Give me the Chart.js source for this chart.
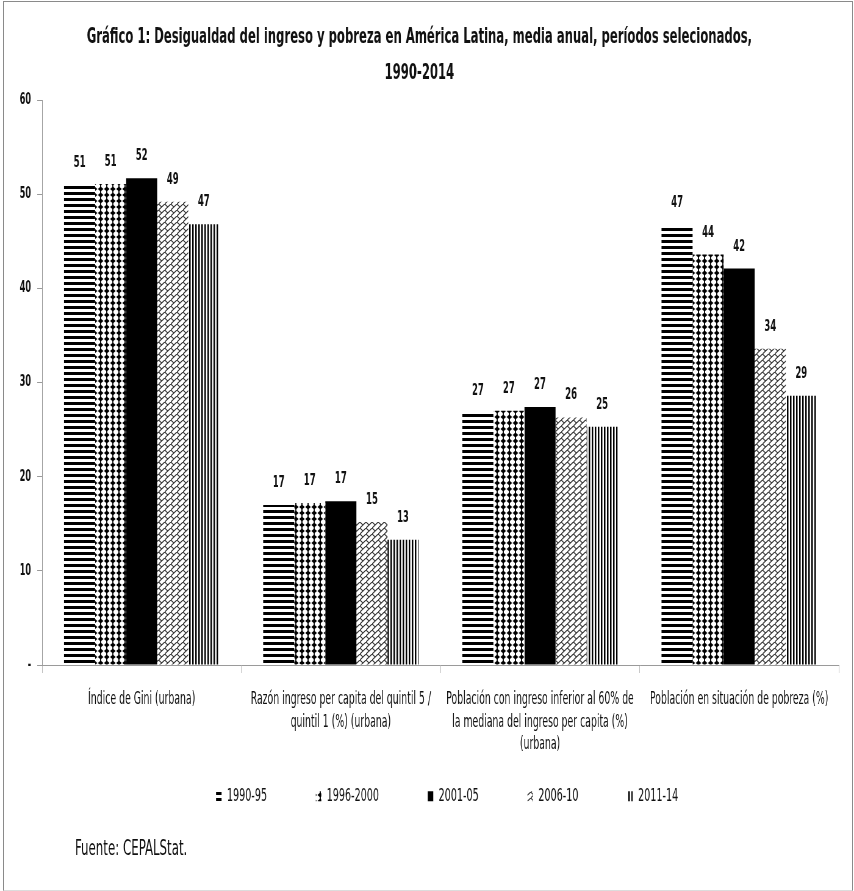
<!DOCTYPE html>
<html>
<head>
<meta charset="utf-8">
<script src="https://cdn.jsdelivr.net/npm/chart.js@4.4.1/dist/chart.umd.min.js"></script>
<style>
  body { margin: 0; background: #fff; }
  #wrap { position: relative; width: 854px; height: 891px; overflow: hidden; }
  /* the original text is a very narrow face: draw wider, then squeeze horizontally */
  #squeeze { position: absolute; left: 0; top: 0; width: 1400px; height: 891px;
             transform: scaleX(0.61); transform-origin: 0 0; }
  #frame { position: absolute; left: 3px; top: 1px; width: 848px; height: 888px;
           border: 1px solid #8a8a8a; border-bottom-color: #dcdcdc; pointer-events: none; }
  #source { position: absolute; left: 123px; top: 835px; line-height: 24px;
            font: 21.5px "DejaVu Sans Condensed", "DejaVu Sans", sans-serif; color: #111; }
</style>
</head>
<body>
<div id="wrap">
  <div id="squeeze">
    <canvas id="chart" width="1400" height="891"></canvas>
    <div id="source">Fuente: CEPALStat.</div>
  </div>
  <div id="frame"></div>
</div>
<script>
// Data
const categories = [
  'Índice de Gini (urbana)',
  ['Razón ingreso per capita del quintil 5 /', 'quintil 1 (%) (urbana)'],
  ['Población con ingreso inferior al 60% de', 'la mediana del ingreso per capita (%)', '(urbana)'],
  'Población en situación de pobreza (%)'
];
const periods = ['1990-95', '1996-2000', '2001-05', '2006-10', '2011-14'];
const s1990 = [51.0, 17.0, 26.8, 46.7];
const s1996 = [51.1, 17.2, 27.0, 43.6];
const s2001 = [51.7, 17.4, 27.4, 42.1];
const s2006 = [49.2, 15.2, 26.3, 33.6];
const s2011 = [46.8, 13.3, 25.3, 28.6];
const yTicks = [0, 10, 20, 30, 40, 50, 60];

const FONT = '"DejaVu Sans Condensed", "DejaVu Sans", sans-serif';

function makePattern(w, h, draw){
  const c = document.createElement('canvas');
  c.width = w; c.height = h;
  const g = c.getContext('2d');
  g.fillStyle = '#fff';
  g.fillRect(0, 0, w, h);
  draw(g);
  return g.createPattern(c, 'repeat');
}

// pattern tiles are in the un-squeezed space (x shrinks by 0.61 on screen)
const hStripes = makePattern(10, 6, g => { g.fillStyle = '#000'; g.fillRect(0, 0, 10, 3); });
const diamonds = makePattern(10, 6, g => {
  g.fillStyle = '#000';
  g.beginPath();
  g.moveTo(5, 0.4); g.lineTo(9.6, 3); g.lineTo(5, 5.6); g.lineTo(0.4, 3);
  g.closePath(); g.fill();
  g.fillRect(4.1, 0, 1.8, 6);
});
const bricks = makePattern(10, 6, g => {
  g.strokeStyle = '#333'; g.lineWidth = 1.2;
  g.beginPath();
  g.moveTo(0, 6); g.lineTo(10, 0);
  g.moveTo(0, 0); g.lineTo(5, 3);
  g.stroke();
});
const vStripes = makePattern(5, 4, g => { g.fillStyle = '#000'; g.fillRect(0, 0, 2.5, 4); });

const fills = [hStripes, diamonds, '#000', bricks, vStripes];
const series = [s1990, s1996, s2001, s2006, s2011];

// value labels above each bar
const valueLabels = {
  id: 'valueLabels',
  afterDatasetsDraw(chart){
    const ctx = chart.ctx;
    ctx.save();
    ctx.font = 'bold 15.5px ' + FONT;
    ctx.fillStyle = '#111';
    ctx.textAlign = 'center';
    ctx.textBaseline = 'middle';
    chart.data.datasets.forEach((ds, i) => {
      chart.getDatasetMeta(i).data.forEach((bar, j) => {
        ctx.fillText(String(Math.round(ds.data[j])), bar.x, bar.y - 22);
      });
    });
    ctx.restore();
  }
};

// nudge the legend a little right, like the original
const legendShift = {
  id: 'legendShift',
  afterLayout(chart){
    chart.legend.left += 11;
    chart.legend.right += 11;
  }
};

const LEG_PAD = 80;

new Chart(document.getElementById('chart'), {
  type: 'bar',
  data: {
    labels: categories,
    datasets: periods.map((p, i) => ({
      label: p,
      data: series[i],
      backgroundColor: fills[i],
      borderWidth: 0,
      categoryPercentage: 0.78,
      barPercentage: 1.0
    }))
  },
  options: {
    responsive: false,
    animation: false,
    layout: { padding: { left: 0, right: 25, bottom: 76 } },
    plugins: {
      title: {
        display: true,
        text: ['Gráfico 1: Desigualdad del ingreso y pobreza en América Latina, media anual, períodos selecionados,', '1990-2014'],
        color: '#111',
        font: { family: FONT, size: 21.2, weight: 'bold', lineHeight: 1.7 },
        padding: { top: 19, bottom: 9 }
      },
      legend: {
        position: 'bottom',
        fullSize: false,
        labels: {
          color: '#111',
          boxWidth: 9,
          boxHeight: 10,
          padding: LEG_PAD,
          font: { family: FONT, size: 17.5 }
        }
      },
      tooltip: { enabled: false }
    },
    scales: {
      x: {
        afterFit(axis){
          // labels run into the legend's top padding, as in the original
          axis.height = 122.5 - LEG_PAD;
          axis._computeLabelArea = () => undefined;
        },
        grid: { display: true, drawOnChartArea: false, offset: true, tickLength: 8, color: '#bdbdbd' },
        border: { color: '#9a9a9a' },
        ticks: { color: '#111', autoSkip: false, maxRotation: 0, padding: 16,
                 font: { family: FONT, size: 17, lineHeight: 1.3 } }
      },
      y: {
        min: 0, max: 60,
        afterBuildTicks(axis){ axis.ticks = yTicks.map(v => ({ value: v })); },
        afterFit(axis){ axis.width = 69; },
        grid: { display: true, drawOnChartArea: false, tickLength: 8, color: '#9a9a9a' },
        border: { color: '#9a9a9a' },
        ticks: { color: '#111', padding: 10, font: { family: FONT, size: 15, weight: 'bold' },
                 callback: v => v === 0 ? '-' : v }
      }
    }
  },
  plugins: [valueLabels, legendShift]
});
</script>
</body>
</html>
